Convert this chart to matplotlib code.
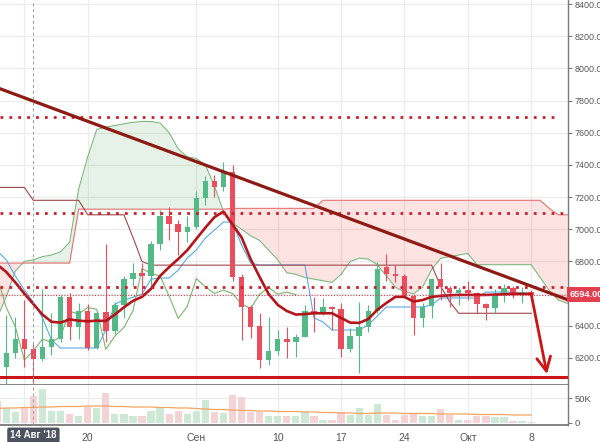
import numpy as np
import pandas as pd
import matplotlib
matplotlib.use("Agg")
import matplotlib.pyplot as plt
import matplotlib.dates as mdates

plt.rcParams["font.family"] = ["Liberation Sans", "DejaVu Sans"]

# ---- daily candles, BTC/USD, 10 Aug - 8 Oct 2018 ----
dates = pd.date_range("2018-08-10", "2018-10-08", freq="D")
opens = [6541, 6144, 6233, 6320, 6254, 6192, 6270, 6316, 6580, 6394,
         6489, 6262, 6483, 6370, 6529, 6694, 6731, 6710, 6907, 7080,
         7035, 6983, 7014, 7196, 7297, 7262, 7359, 6704, 6514, 6398,
         6188, 6245, 6318, 6297, 6332, 6491, 6477, 6514, 6502, 6254,
         6336, 6390, 6493, 6766, 6725, 6710, 6584, 6446, 6522, 6694,
         6632, 6601, 6622, 6605, 6535, 6508, 6597, 6632, 6597, 6609]
highs = [6590, 6470, 6456, 6560, 6290, 6630, 6480, 6590, 6605, 6540,
         6535, 6490, 6911, 6550, 6710, 6793, 6790, 6930, 7120, 7138,
         7060, 7080, 7240, 7330, 7340, 7417, 7397, 6720, 6530, 6479,
         6456, 6374, 6394, 6350, 6530, 6580, 6570, 6525, 6540, 6385,
         6549, 6530, 6797, 6849, 6775, 6720, 6600, 6540, 6700, 6790,
         6650, 6640, 6680, 6610, 6540, 6630, 6660, 6650, 6640, 6625]
lows = [6130, 6010, 6200, 6144, 5880, 6180, 6220, 6300, 6312, 6320,
        6250, 6255, 6300, 6350, 6450, 6650, 6580, 6650, 6870, 6932,
        6839, 6920, 7000, 7150, 7200, 7240, 6680, 6312, 6324, 6138,
        6157, 6220, 6198, 6208, 6330, 6363, 6470, 6374, 6208, 6240,
        6105, 6360, 6480, 6680, 6670, 6570, 6343, 6390, 6450, 6560,
        6518, 6530, 6560, 6480, 6436, 6480, 6550, 6570, 6540, 6580]
closes = [6144, 6233, 6316, 6254, 6192, 6270, 6316, 6580, 6394, 6489,
          6262, 6480, 6370, 6529, 6694, 6731, 6710, 6907, 7080, 7035,
          6983, 7014, 7196, 7297, 7262, 7355, 6704, 6514, 6394, 6188,
          6245, 6318, 6297, 6332, 6491, 6473, 6514, 6502, 6254, 6336,
          6390, 6493, 6756, 6725, 6710, 6584, 6446, 6520, 6694, 6642,
          6601, 6622, 6601, 6535, 6508, 6597, 6638, 6597, 6609, 6594]
volume_k = [45, 31, 23, 31, 54, 69, 24, 25, 19, 14,
            32, 30, 60, 19, 19, 15, 15, 24, 31, 19,
            24, 19, 24, 46, 23, 21, 57, 53, 22, 22,
            15, 15, 15, 15, 24, 15, 7, 6, 23, 16,
            30, 17, 38, 17, 7, 17, 19, 15, 15, 28,
            17, 7, 7, 14, 14, 13, 13, 5, 5, 2]
volume_ma_k = [29, 30, 30, 31, 31, 32, 32, 33, 33, 33,
               34, 34, 34, 33, 33, 32, 32, 32, 31, 31,
               30, 30, 29, 28, 27, 27, 26, 25, 25, 24,
               24, 23, 23, 23, 22, 22, 21, 21, 20, 20,
               19, 19, 20, 20, 20, 19, 19, 19, 19, 18,
               18, 18, 18, 17, 17, 17, 17, 16, 16, 16]

# ---- indicator lines ----
trend_ma = [6780, 6735, 6670, 6600, 6535, 6470, 6425, 6420, 6440, 6432,
            6428, 6432, 6430, 6470, 6515, 6555, 6580, 6630, 6710, 6765,
            6815, 6870, 6940, 7010, 7075, 7110, 7030, 6950, 6815, 6703,
            6597, 6530, 6492, 6470, 6473, 6478, 6478, 6478, 6449, 6420,
            6418, 6442, 6500, 6542, 6580, 6580, 6551, 6560, 6580, 6586,
            6590, 6592, 6592, 6592, 6592, 6594, 6596, 6598, 6598, 6598]
tenkan = [6865, 6810, 6710, 6622, 6548, 6449, 6312, 6262, 6262, 6262,
          6262, 6262, 6374, 6535, 6560, 6578, 6597, 6690, 6697, 6697,
          6746, 6821, 6871, 6946, 6995, 7045, 7045, 6902, 6790, 6778,
          6778, 6778, 6778, 6778, 6778, 6449, 6424, 6374, 6374, 6374,
          6374, 6405, 6461, 6517, 6517, 6517, 6517, 6517, 6529, 6573,
          6573, 6573, 6573, 6573, 6610, 6610, 6610, 6610, 6604, 6604]
kijun = [7260, 7260, 7260, 7260, 7180, 7180, 7180, 7180, 7180, 7180,
         7090, 7090, 7090, 7090, 7090, 6950, 6800, 6777, 6777, 6777,
         6777, 6777, 6777, 6777, 6777, 6777, 6777, 6777, 6777, 6777,
         6777, 6777, 6777, 6777, 6777, 6777, 6777, 6777, 6777, 6777,
         6777, 6777, 6777, 6777, 6777, 6777, 6777, 6777, 6777, 6645,
         6550, 6478, 6478, 6478, 6478, 6478, 6478, 6478, 6478, 6478]

# leading spans run four days past the last candle
cloud_dates = pd.date_range("2018-08-10", "2018-10-12", freq="D")
senkou_a = [6450, 6580, 6740, 6800, 6810, 6830, 6840, 6860, 6920, 7250,
            7450, 7620, 7635, 7645, 7655, 7665, 7670, 7670, 7660, 7600,
            7500, 7450, 7440, 7400, 7270, 7110, 7040, 7000, 6960, 6930,
            6870, 6810, 6730, 6720, 6700, 6690, 6680, 6670, 6720, 6800,
            6820, 6815, 6780, 6710, 6640, 6610, 6600, 6640, 6750, 6820,
            6830, 6840, 6850, 6780, 6780, 6780, 6780, 6780, 6780, 6780,
            6700, 6620, 6560, 6540]
senkou_b = [6790] * 9 + [7125] * 17 + [7130] * 10 + [7180] * 25 + [7130, 7090, 7090]
lag_days = 26

# ---- drawn levels ----
dotted_levels = [7698, 7101, 6641]
dotted_ends = ["2018-10-10 20:00", "2018-10-11 12:00", "2018-10-12 12:00"]
support_level = 6082
last_price = 6594
trend_pts = [("2018-08-10", 7880), ("2018-10-12", 6563)]
arrow_tail = ("2018-10-08", 6598)
arrow_tip = ("2018-10-09 18:00", 6100)
crosshair_date = "2018-08-14"

tick_dates = ["2018-08-13", "2018-08-20", "2018-09-01", "2018-09-10",
              "2018-09-17", "2018-09-24", "2018-10-01", "2018-10-08"]
tick_labels = ["", "20", "Сен", "10", "17", "24", "Окт", "8"]
price_ticks = [6200, 6400, 6600, 6800, 7000, 7200, 7400, 7600, 7800, 8000, 8200, 8400]

# ---- colours ----
UP, DOWN = "#53b987", "#eb4d5c"
GRID = "#ececec"
AXIS = "#7a7a7a"
TXT = "#555555"

x = mdates.date2num(dates)
xc = mdates.date2num(cloud_dates)
d0 = mdates.date2num(pd.Timestamp("2018-08-14"))
xlim = (d0 - 3.69, d0 + 59.07)

W, H = 600, 442
fig = plt.figure(figsize=(W / 100, H / 100), dpi=100)
fig.patch.set_facecolor("white")
ax = fig.add_axes([0, 1 - 385 / H, 568 / W, 385 / H])
vax = fig.add_axes([0, 1 - 425 / H, 568 / W, 40 / H])

for a in (ax, vax):
    a.set_xlim(*xlim)
    a.set_facecolor("white")
    for s in ("top", "left"):
        a.spines[s].set_visible(False)
    a.spines["right"].set_color(AXIS)
    a.spines["bottom"].set_color(AXIS)
    a.spines["right"].set_linewidth(1.0)
    a.spines["bottom"].set_linewidth(1.3)
    a.yaxis.tick_right()
    tx = mdates.date2num(pd.to_datetime(tick_dates))
    a.set_xticks(tx)
    for t in tx:
        a.axvline(t, color=GRID, lw=0.9, zorder=0)

ax.set_ylim(6032.2, 8424.9)
ax.set_yticks(price_ticks)
ax.set_yticklabels(["" if p == 6600 else f"{p:.2f}" for p in price_ticks])
for p in price_ticks:
    ax.axhline(p, color=GRID, lw=0.9, zorder=0)
ax.tick_params(axis="y", length=3, color=AXIS, labelsize=6.4, labelcolor=TXT, pad=2)
ax.tick_params(axis="x", length=0, labelbottom=False)

# cloud
sa = np.array(senkou_a, float)
sb = np.array(senkou_b, float)
ax.fill_between(xc, sa, sb, where=sa >= sb, interpolate=True, color="#43a047", alpha=0.13, lw=0, zorder=1)
ax.fill_between(xc, sa, sb, where=sa < sb, interpolate=True, color="#f44336", alpha=0.15, lw=0, zorder=1)
ax.plot(xc, sa, color="#7fb87f", lw=0.8, zorder=2)
ax.plot(xc, sb, color="#e57373", lw=0.8, zorder=2)

# conversion / base / lagging lines
ax.plot(x, tenkan, color="#5aa9e6", lw=0.8, zorder=2)
ax.plot(x, kijun, color="#a0474a", lw=0.8, zorder=2)
cl = pd.Series(closes, index=dates)
lag = cl.iloc[lag_days:]
ax.plot(mdates.date2num(lag.index - pd.Timedelta(days=lag_days)), lag.values,
        color="#7cb36b", lw=0.8, zorder=2)

# candles
o = np.array(opens, float)
c = np.array(closes, float)
up = c >= o
cols = np.where(up, UP, DOWN)
ax.vlines(x, lows, highs, colors=cols, lw=0.8, zorder=3)
body = np.where(np.abs(c - o) < 8, 8, c - o)
ax.bar(x, body, bottom=o, width=0.6, color=cols, lw=0, zorder=4)

# thick moving average
ax.plot(x, trend_ma, color="#b3151c", lw=1.9, zorder=5, solid_capstyle="round")

# horizontal levels
for lvl, end in zip(dotted_levels, dotted_ends):
    ax.plot([xlim[0], mdates.date2num(pd.Timestamp(end))], [lvl, lvl], color="#cc1f2c",
            lw=2.0, linestyle=(0, (1, 2.2)), zorder=6)
ax.axhline(last_price, color="#d9394a", lw=0.8, linestyle=(0, (1, 1.5)), zorder=6)
ax.axhline(support_level, color="#cc1414", lw=2.2, zorder=6)

# falling trend line
(t1, p1), (t2, p2) = trend_pts
ax.axline((mdates.date2num(pd.Timestamp(t1)), p1), (mdates.date2num(pd.Timestamp(t2)), p2),
          color="#8e1a14", lw=2.3, zorder=6)

# projected move
ax.annotate("", xy=(mdates.date2num(pd.Timestamp(arrow_tip[0])), arrow_tip[1]),
            xytext=(mdates.date2num(pd.Timestamp(arrow_tail[0])), arrow_tail[1]),
            arrowprops=dict(arrowstyle="->,head_length=1.0,head_width=0.5",
                            color="#cc1414", lw=2.0, shrinkA=0, shrinkB=0), zorder=7)

# crosshair
xcross = mdates.date2num(pd.Timestamp(crosshair_date))
for a in (ax, vax):
    a.axvline(xcross, color="#9a9a9a", lw=0.7, linestyle=(0, (3, 3)), zorder=8)

# volume pane
vk = np.array(volume_k, float)
vcols = np.where(up, "#cde9d6", "#f4d3d6")
vax.bar(x, vk, width=0.8, color=vcols, lw=0, zorder=2)
vax.plot(x, volume_ma_k, color="#f4a460", lw=0.9, zorder=3)
vax.set_ylim(-4, 76)
vax.set_yticks([0, 50])
vax.set_yticklabels(["0", "50K"])
vax.axhline(50, color=GRID, lw=0.9, zorder=0)
vax.tick_params(axis="y", length=3, color=AXIS, labelsize=6.8, labelcolor=TXT, pad=2)
vax.tick_params(axis="x", length=0, labelsize=7.5, labelcolor=TXT, pad=6)
vax.set_xticklabels(tick_labels)

# last price tag on the scale
fig.text(570 / W, 1 - 294.5 / H, f"{last_price:.2f}", color="white", fontsize=6.6,
         fontweight="bold", va="center", ha="left",
         bbox=dict(boxstyle="square,pad=0.3", fc="#e33d50", ec="none"))
# crosshair date tag
fig.text(33.4 / W, 1 - 435.5 / H, "14 Авг '18", color="white", fontsize=7,
         fontweight="bold", va="center", ha="center",
         bbox=dict(boxstyle="round,pad=0.3,rounding_size=0.2", fc="#4c525e", ec="none"))

fig.savefig("out.png", dpi=100, facecolor="white")
